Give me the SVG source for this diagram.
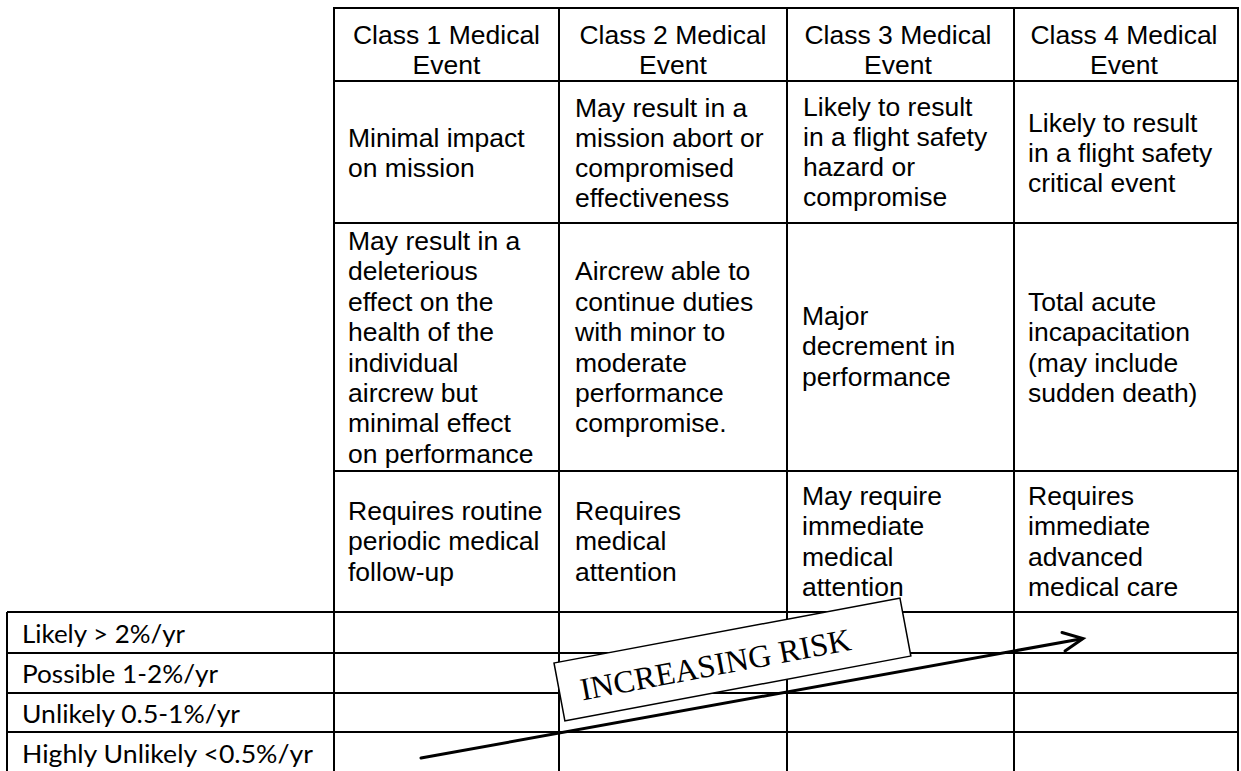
<svg xmlns="http://www.w3.org/2000/svg" width="1241" height="771" viewBox="0 0 1241 771">
<style>
.grid{stroke:#000;stroke-width:2;fill:none}
.t{font-family:"Liberation Sans",Arial,sans-serif;font-size:26.5px;fill:#000}
.h{font-family:"Liberation Sans",Arial,sans-serif;font-size:26.5px;fill:#000;text-anchor:middle}
.lab{font-family:Lato,"Liberation Sans",sans-serif;font-size:25px;fill:#000}
.risk{font-family:"Liberation Serif","Times New Roman",serif;font-size:32px;fill:#000}
</style>
<rect width="1241" height="771" fill="#fff"/>
<g id="grid" class="grid">
<line x1="334" y1="8" x2="1238" y2="8"/>
<line x1="334" y1="81" x2="1238" y2="81"/>
<line x1="334" y1="223" x2="1238" y2="223"/>
<line x1="334" y1="471" x2="1238" y2="471"/>
<line x1="7" y1="612" x2="1238" y2="612"/>
<line x1="7" y1="653" x2="1238" y2="653"/>
<line x1="7" y1="693" x2="1238" y2="693"/>
<line x1="7" y1="732" x2="1238" y2="732"/>
<line x1="7" y1="612" x2="7" y2="771"/>
<line x1="334" y1="7" x2="334" y2="771"/>
<line x1="559" y1="7" x2="559" y2="771"/>
<line x1="787" y1="7" x2="787" y2="771"/>
<line x1="1014" y1="7" x2="1014" y2="771"/>
<line x1="1238" y1="7" x2="1238" y2="771"/>
</g>
<g id="header1"><text class="h" x="446.5" y="44">Class 1 Medical</text><text class="h" x="446.5" y="74">Event</text></g>
<g id="header2"><text class="h" x="673" y="44">Class 2 Medical</text><text class="h" x="673" y="74">Event</text></g>
<g id="header3"><text class="h" x="898" y="44">Class 3 Medical</text><text class="h" x="898" y="74">Event</text></g>
<g id="header4"><text class="h" x="1124" y="44">Class 4 Medical</text><text class="h" x="1124" y="74">Event</text></g>

<g id="impact1" class="t"><text x="348" y="147">Minimal impact</text><text x="348" y="177">on mission</text></g>
<g id="impact2" class="t"><text x="575" y="117">May result in a</text><text x="575" y="147">mission abort or</text><text x="575" y="177">compromised</text><text x="575" y="207">effectiveness</text></g>
<g id="impact3" class="t"><text x="803" y="116">Likely to result</text><text x="803" y="146">in a flight safety</text><text x="803" y="176">hazard or</text><text x="803" y="206">compromise</text></g>
<g id="impact4" class="t"><text x="1028" y="132">Likely to result</text><text x="1028" y="162">in a flight safety</text><text x="1028" y="192">critical event</text></g>

<g id="health1" class="t"><text x="348" y="250">May result in a</text><text x="348" y="280.4">deleterious</text><text x="348" y="310.8">effect on the</text><text x="348" y="341.2">health of the</text><text x="348" y="371.6">individual</text><text x="348" y="402">aircrew but</text><text x="348" y="432.4">minimal effect</text><text x="348" y="462.8">on performance</text></g>
<g id="health2" class="t"><text x="575" y="280.4">Aircrew able to</text><text x="575" y="310.8">continue duties</text><text x="575" y="341.2">with minor to</text><text x="575" y="371.6">moderate</text><text x="575" y="402">performance</text><text x="575" y="432.4">compromise.</text></g>
<g id="health3" class="t"><text x="802" y="325">Major</text><text x="802" y="355.4">decrement in</text><text x="802" y="385.8">performance</text></g>
<g id="health4" class="t"><text x="1028" y="310.8">Total acute</text><text x="1028" y="341.2">incapacitation</text><text x="1028" y="371.6">(may include</text><text x="1028" y="402">sudden death)</text></g>

<g id="care1" class="t"><text x="348" y="520">Requires routine</text><text x="348" y="550.4">periodic medical</text><text x="348" y="580.8">follow-up</text></g>
<g id="care2" class="t"><text x="575" y="520">Requires</text><text x="575" y="550.4">medical</text><text x="575" y="580.8">attention</text></g>
<g id="care3" class="t"><text x="802" y="505">May require</text><text x="802" y="535.4">immediate</text><text x="802" y="565.8">medical</text><text x="802" y="596.2">attention</text></g>
<g id="care4" class="t"><text x="1028" y="505">Requires</text><text x="1028" y="535.4">immediate</text><text x="1028" y="565.8">advanced</text><text x="1028" y="596.2">medical care</text></g>

<g id="likelihood" class="lab">
<text x="22" y="643" textLength="163" lengthAdjust="spacingAndGlyphs">Likely &gt; 2%/yr</text>
<text x="22" y="683" textLength="196" lengthAdjust="spacingAndGlyphs">Possible 1-2%/yr</text>
<text x="22" y="723" textLength="218" lengthAdjust="spacingAndGlyphs">Unlikely 0.5-1%/yr</text>
<text x="22" y="763" textLength="291" lengthAdjust="spacingAndGlyphs">Highly Unlikely &lt;0.5%/yr</text>
</g>

<g id="risk-label" transform="translate(554,663) rotate(-10.64)">
<rect x="0" y="0" width="352" height="59" fill="#fff" stroke="#000" stroke-width="1.5"/>
<text class="risk" x="21" y="42">INCREASING RISK</text>
</g>

<g id="connectors" stroke="#000" stroke-width="3" fill="none" stroke-linecap="round" stroke-linejoin="miter">
<line x1="421" y1="758" x2="1082" y2="638.7"/>
<polyline points="1062,632.5 1083,638.5 1065,651"/>
</g>
</svg>
